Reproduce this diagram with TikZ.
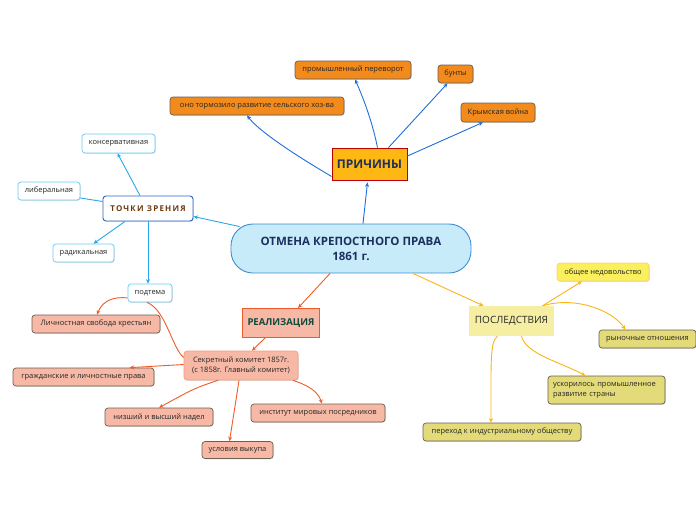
\documentclass[tikz,border=0pt]{standalone}
\usepackage{fontspec}
\setmainfont{Open Sans}
\newfontfamily\spacedfont[LetterSpace=15]{Open Sans}
\usetikzlibrary{arrows.meta,shadows}
\definecolor{mainfill}{HTML}{C8EBFA}
\definecolor{maindraw}{HTML}{3C8FD2}
\definecolor{navy}{HTML}{1C2F5E}
\definecolor{causefill}{HTML}{F28A1C}
\definecolor{causehead}{HTML}{FDB813}
\definecolor{causeline}{HTML}{1E6FD9}
\definecolor{viewdraw}{HTML}{66CCF2}
\definecolor{viewline}{HTML}{28A8EA}
\definecolor{viewhead}{HTML}{2A64C5}
\definecolor{brownish}{HTML}{6B3A0F}
\definecolor{realfill}{HTML}{F7B9A5}
\definecolor{realline}{HTML}{F05A28}
\definecolor{realtext}{HTML}{0E4A3C}
\definecolor{resfill}{HTML}{E3DA79}
\definecolor{reshead}{HTML}{F6EFA3}
\definecolor{resline}{HTML}{FBB417}
\definecolor{leafdraw}{HTML}{6B5E52}
\begin{document}
\begin{tikzpicture}[x=1pt,y=-1pt,
  leaf/.style={rounded corners=3pt,draw=leafdraw,line width=.7pt,inner sep=0pt,align=center,
    text=black!85,font=\fontsize{7.5}{10}\selectfont,
    drop shadow={shadow xshift=.8pt,shadow yshift=-.8pt,opacity=.25}},
  causeleaf/.style={leaf,fill=causefill},
  viewleaf/.style={leaf,fill=white,draw=viewdraw,drop shadow={opacity=0}},
  realleaf/.style={leaf,fill=realfill},
  resleaf/.style={leaf,fill=resfill},
  link/.style={line width=.9pt,-{Stealth[length=4.5pt,width=4pt]}}]
\useasboundingbox (0,0) rectangle (696,520);

% main topic
\node [rounded corners=22pt,draw=maindraw,fill=mainfill,line width=.9pt,minimum width=240pt,minimum height=49pt,
  align=center,text=navy,font=\fontsize{11.5}{15}\selectfont\bfseries] (c) at (351,248.5) {ОТМЕНА КРЕПОСТНОГО ПРАВА\\1861 г.};

% causes
\node [draw=red!75!black,fill=causehead,line width=.9pt,minimum width=75pt,minimum height=32pt,
  text=navy,font=\fontsize{12}{14}\selectfont\bfseries] (p) at (369.5,164) {ПРИЧИНЫ};
\node [causeleaf,minimum width=116pt,minimum height=18pt] (pp) at (353,70) {промышленный переворот};
\node [causeleaf,minimum width=35pt,minimum height=18pt] (bu) at (455.5,74) {бунты};
\node [causeleaf,minimum width=174pt,minimum height=18pt] (ot) at (257,106) {оно тормозило развитие сельского хоз-ва};
\node [causeleaf,minimum width=74pt,minimum height=19pt] (kr) at (498,112.5) {Крымская война};

% points of view
\node [rounded corners=3pt,draw=viewhead,fill=white,line width=.9pt,minimum width=90pt,minimum height=25pt,
  text=brownish,font=\fontsize{8}{10}\selectfont\spacedfont\bfseries,
  drop shadow={shadow xshift=.8pt,shadow yshift=-.8pt,opacity=.3}] (tz) at (148,208.5) {ТОЧКИ ЗРЕНИЯ};
\node [viewleaf,minimum width=73pt,minimum height=19pt] (ko) at (118.5,143.5) {консервативная};
\node [viewleaf,minimum width=62pt,minimum height=18pt] (li) at (49,191) {либеральная};
\node [viewleaf,minimum width=61pt,minimum height=18pt] (ra) at (83.5,253) {радикальная};
\node [viewleaf,minimum width=44pt,minimum height=18pt] (pt) at (150,293) {подтема};

% realisation
\node [draw=realline,fill=realfill,line width=.9pt,minimum width=77pt,minimum height=29pt,
  text=realtext,font=\fontsize{9.5}{12}\selectfont\bfseries] (re) at (281,323) {РЕАЛИЗАЦИЯ};
\node [leaf,fill=realfill,draw=realfill!70!realline,minimum width=114pt,minimum height=29pt] (sk) at (241,365.5)
  {Секретный комитет 1857г.\\(с 1858г. Главный комитет)};
\node [realleaf,minimum width=128pt,minimum height=18pt] (lc) at (96,324) {Личностная свобода крестьян};
\node [realleaf,minimum width=141pt,minimum height=18pt] (gr) at (83.5,377) {гражданские и личностные права};
\node [realleaf,minimum width=108pt,minimum height=18pt] (ni) at (159,417) {низший и высший надел};
\node [realleaf,minimum width=134pt,minimum height=18pt] (in) at (318,413) {институт мировых посредников};
\node [realleaf,minimum width=71pt,minimum height=17pt] (us) at (237.5,450) {условия выкупа};

% results
\node [fill=reshead,minimum width=85pt,minimum height=30pt,text=black!85,
  font=\fontsize{10}{12}\selectfont] (ps) at (511.5,321) {ПОСЛЕДСТВИЯ};
\node [leaf,fill=yellow!45!reshead,draw=resline!60,drop shadow={opacity=0},minimum width=92pt,minimum height=18pt] (ob) at (603,272) {общее недовольство};
\node [resleaf,minimum width=97pt,minimum height=18pt] (ry) at (647.5,339) {рыночные отношения};
\node [resleaf,minimum width=117pt,minimum height=28pt,align=left,text width=107pt] (uk) at (606.5,390)
  {ускорилось промышленное\\развитие страны};
\node [resleaf,minimum width=158pt,minimum height=18pt] (pe) at (502,432) {переход к индустриальному обществу};

% links: causes
\draw [link,causeline] ([xshift=12pt]c.north) -- ([xshift=-2pt,yshift=-2pt]p.south);
\draw [link,causeline] ([xshift=8pt]p.north) .. controls (372,120) and (362,95) .. ([xshift=2pt]pp.south);
\draw [link,causeline] ([xshift=19pt]p.north) -- ([xshift=-8pt]bu.south);
\draw [link,causeline] ([yshift=8pt]p.east) -- ([xshift=-15pt]kr.south);
\draw [link,causeline] ([yshift=4pt]p.south west) .. controls (290,152) and (258,130) .. ([xshift=-10pt]ot.south);

% links: points of view
\draw [link,viewline] ([xshift=9pt,yshift=-3pt]c.north west) -- ([yshift=-8pt]tz.east);
\draw [link,viewline] ([xshift=-8pt]tz.north) -- ([xshift=-1pt]ko.south);
\draw [line width=.9pt,viewline] ([yshift=7pt]tz.west) -- ([yshift=-7pt]li.east);
\draw [link,viewline] ([xshift=-23pt]tz.south) -- ([xshift=10pt]ra.north);
\draw [link,viewline] (tz.south) -- ([xshift=-2pt]pt.north);

% links: realisation
\draw [link,realline] ([xshift=-21pt]c.south) -- ([xshift=17pt]re.north);
\draw [link,realline] ([xshift=-16pt]re.south) -- ([xshift=11pt]sk.north);
\draw [link,realline] ([yshift=-5pt]pt.west) .. controls (112,296) and (102,302) .. ([xshift=1pt]lc.north);
\draw [line width=.9pt,realline] ([xshift=-3pt]pt.south) .. controls (166,310) and (172,348) .. ([yshift=8pt]sk.west);
\draw [link,realline] ([yshift=1pt]sk.west) -- ([xshift=46pt]gr.north);
\draw [link,realline] ([xshift=-23pt]sk.south) .. controls (195,388) .. (ni.north);
\draw [link,realline] ([xshift=-2pt]sk.south) .. controls (236,400) .. ([xshift=-8pt]us.north);
\draw [link,realline] ([xshift=52pt]sk.south) .. controls (310,386) and (318,392) .. ([xshift=4pt]in.north);

% links: results
\draw [link,resline] ([xshift=62pt]c.south) -- ([xshift=-28pt]ps.north);
\draw [link,resline] ([xshift=31pt]ps.north) -- ([xshift=-21pt]ob.south);
\draw [link,resline] ([xshift=31pt]ps.north) .. controls (575,296) and (612,310) .. ([xshift=-22pt]ry.north);
\draw [link,resline] ([xshift=10pt]ps.south) .. controls (526,354) and (560,362) .. ([xshift=-21pt]uk.north);
\draw [link,resline] ([xshift=-14pt]ps.south) .. controls (490,342) and (491,360) .. ([xshift=-11pt]pe.north);
\end{tikzpicture}
\end{document}
